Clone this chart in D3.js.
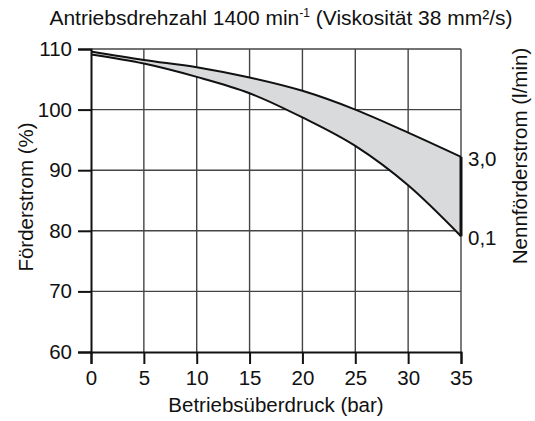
<!DOCTYPE html>
<html>
<head>
<meta charset="utf-8">
<script src="https://cdn.jsdelivr.net/npm/d3@7"></script>
<style>
  body { margin: 0; background: #fff; }
  svg text { font-family: "Liberation Sans", Arial, sans-serif; fill: #111; }
</style>
</head>
<body>
<svg id="chart" width="535" height="421"></svg>
<script>
// pressure (bar) and relative flow (%) for the two curves
const pressure = [0, 5, 10, 15, 20, 25, 30, 35];
const upperFlow = [109.6, 108.2, 107.0, 105.3, 103.1, 100.0, 96.2, 92.2]; // 3,0 l/min
const lowerFlow = [109.1, 107.6, 105.4, 102.7, 98.7, 94.0, 87.5, 79.1];  // 0,1 l/min
const xTicks = [0, 5, 10, 15, 20, 25, 30, 35];
const yTicks = [60, 70, 80, 90, 100, 110];
const rightLabels = ["3,0", "0,1"];

const svg = d3.select("#chart");

const x = d3.scaleLinear().domain([0, 35]).range([91, 461]);
const y = d3.scaleLinear().domain([60, 110]).range([352, 49]);

// grid
svg.append("g")
    .selectAll("line.vgrid")
    .data(xTicks.slice(1))
    .enter().append("line")
    .attr("x1", d => x(d)).attr("x2", d => x(d))
    .attr("y1", y(110)).attr("y2", y(60))
    .attr("stroke", "#444").attr("stroke-width", 1.4);

svg.append("g")
    .selectAll("line.hgrid")
    .data(yTicks.slice(1))
    .enter().append("line")
    .attr("x1", x(0)).attr("x2", x(35))
    .attr("y1", d => y(d)).attr("y2", d => y(d))
    .attr("stroke", "#444").attr("stroke-width", 1.4);

// band between the curves
const pts = pressure.map((p, i) => ({ p: p, hi: upperFlow[i], lo: lowerFlow[i] }));

const area = d3.area()
    .x(d => x(d.p))
    .y0(d => y(d.lo))
    .y1(d => y(d.hi))
    .curve(d3.curveMonotoneX);

svg.append("path")
    .datum(pts)
    .attr("d", area)
    .attr("fill", "#d9dadb");

const lineHi = d3.line().x(d => x(d.p)).y(d => y(d.hi)).curve(d3.curveMonotoneX);
const lineLo = d3.line().x(d => x(d.p)).y(d => y(d.lo)).curve(d3.curveMonotoneX);

svg.append("path").datum(pts).attr("d", lineHi)
    .attr("fill", "none").attr("stroke", "#111").attr("stroke-width", 2);
svg.append("path").datum(pts).attr("d", lineLo)
    .attr("fill", "none").attr("stroke", "#111").attr("stroke-width", 2);

// right end bar
svg.append("line")
    .attr("x1", x(35)).attr("x2", x(35))
    .attr("y1", y(upperFlow[upperFlow.length - 1]))
    .attr("y2", y(lowerFlow[lowerFlow.length - 1]))
    .attr("stroke", "#111").attr("stroke-width", 3);

// axes
const xAxis = svg.append("g")
    .attr("transform", `translate(0,${y(60)})`)
    .call(d3.axisBottom(x).tickValues(xTicks).tickSize(12).tickPadding(6));
const yAxis = svg.append("g")
    .attr("transform", `translate(${x(0)},0)`)
    .call(d3.axisLeft(y).tickValues(yTicks).tickSize(13).tickPadding(6));

[xAxis, yAxis].forEach(g => {
    g.select(".domain").attr("stroke", "#111").attr("stroke-width", 2);
    g.selectAll(".tick line").attr("stroke", "#111").attr("stroke-width", 2);
    g.selectAll(".tick text")
        .attr("fill", "#111")
        .style("font-family", '"Liberation Sans", Arial, sans-serif')
        .style("font-size", "20.5px");
});

// right labels at the curve ends
const ends = [upperFlow[upperFlow.length - 1], lowerFlow[lowerFlow.length - 1]];
svg.selectAll("text.rlab")
    .data(rightLabels)
    .enter().append("text")
    .attr("class", "rlab")
    .attr("x", x(35) + 7)
    .attr("y", (d, i) => y(ends[i]) + 9)
    .style("font-size", "20.5px")
    .text(d => d);

// titles
const title = svg.append("text")
    .attr("x", 281).attr("y", 25)
    .attr("text-anchor", "middle")
    .style("font-size", "21px");
title.append("tspan").text("Antriebsdrehzahl 1400 min");
title.append("tspan").attr("dy", -8).style("font-size", "12px").text("-1");
title.append("tspan").attr("dy", 8).text(" (Viskosität 38 mm²/s)");

svg.append("text")
    .attr("x", (x(0) + x(35)) / 2).attr("y", 412)
    .attr("text-anchor", "middle")
    .style("font-size", "20.5px")
    .text("Betriebsüberdruck (bar)");

svg.append("text")
    .attr("transform", "translate(33,197) rotate(-90)")
    .attr("text-anchor", "middle")
    .style("font-size", "20.5px")
    .text("Förderstrom (%)");

svg.append("text")
    .attr("transform", "translate(527,156) rotate(-90)")
    .attr("text-anchor", "middle")
    .style("font-size", "20.5px")
    .text("Nennförderstrom (l/min)");
</script>
</body>
</html>
